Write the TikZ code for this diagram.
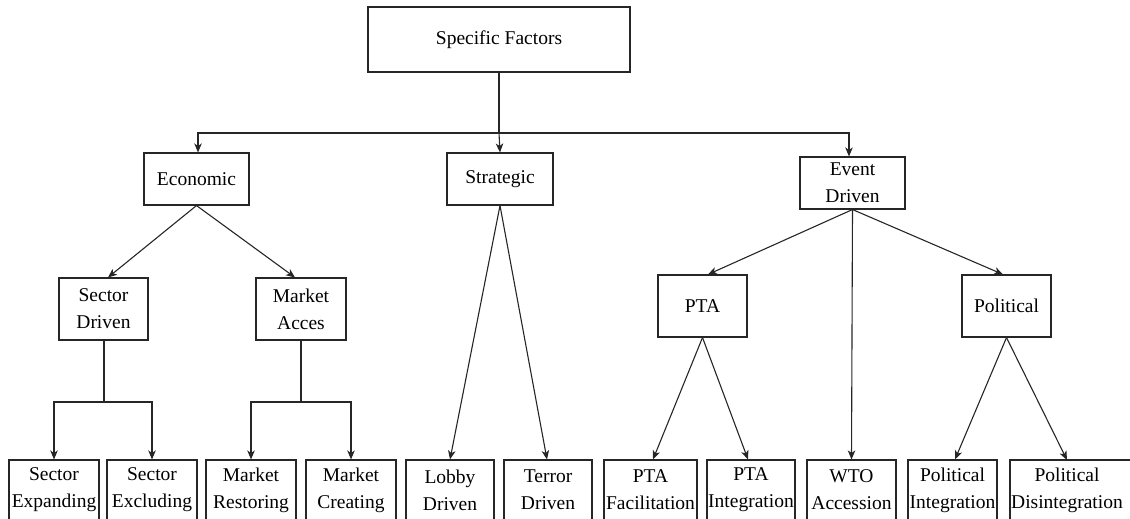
\documentclass[tikz,border=0pt]{standalone}
\usepackage{fontspec}
\setmainfont{Liberation Serif}
\newfontfamily\diagfont{Liberation Serif}
\usetikzlibrary{arrows.meta,calc}
\begin{document}
\begin{tikzpicture}[x=1pt,y=-1pt,
  box/.style={draw=black!85,line width=1.1pt,rectangle,inner sep=0pt,align=center,
    font=\diagfont\fontsize{19.5}{27}\selectfont},
  bare/.style={inner sep=0pt,align=center,font=\diagfont\fontsize{19.5}{27}\selectfont},
  conn/.style={draw=black!85,line width=1.1pt},
  arr/.style={conn,-{Stealth[length=9pt,width=7.5pt,inset=2.5pt]}}]
\useasboundingbox (0,0) rectangle (1130,519);
\clip (0,0) rectangle (1130,519);
% top level
\node[box,minimum width=262,minimum height=65] (sf) at (499,39.5) {Specific Factors};
% second level
\node[box,minimum width=105,minimum height=52] (eco) at (196.5,179) {Economic};
\node[box,minimum width=106,minimum height=52] (str) at (500,179) {Strategic};
\node[box,minimum width=105,minimum height=52] (evt) at (852.5,183) {Event\\Driven};
% third level
\node[box,minimum width=89,minimum height=62] (sd) at (103.5,309) {Sector\\Driven};
\node[box,minimum width=90,minimum height=62] (ma) at (301,309) {Market\\Acces};
\node[box,minimum width=89,minimum height=62] (pta) at (702.5,306) {PTA};
\node[box,minimum width=89,minimum height=62] (pol) at (1006.5,306) {Political};
% bottom level
\node[box,minimum width=90,minimum height=60] (se) at (54,490) {Sector\\Expanding};
\node[box,minimum width=90,minimum height=60] (sx) at (152,490) {Sector\\Excluding};
\node[box,minimum width=90,minimum height=60] (mr) at (251,490) {Market\\Restoring};
\node[box,minimum width=90,minimum height=60] (mc) at (351,490) {Market\\Creating};
\node[box,minimum width=88,minimum height=60] (ld) at (450,490) {Lobby\\Driven};
\node[box,minimum width=88,minimum height=60] (td) at (548,490) {Terror\\Driven};
\node[box,minimum width=93,minimum height=60] (pf) at (650.5,490) {PTA\\Facilitation};
\node[box,minimum width=88,minimum height=60] (pi) at (751,490) {PTA\\Integration};
\node[box,minimum width=89,minimum height=60] (wto) at (851.5,490) {WTO\\Accession};
\node[box,minimum width=89,minimum height=60] (pint) at (952.5,490) {Political\\Integration};
\node[bare,minimum height=60] (pdis) at (1067,490) {Political\\Disintegration};
\draw[conn] (1010,460) rectangle (1150,530);
\coordinate (pdt) at (1067,460);
% top connectors
\coordinate (j) at (499,133);
\draw[conn] (sf.south) -- (j);
\draw[arr] (j) -- (str.north);
\draw[arr] (j) -| ([xshift=1.5pt]eco.north);
\draw[arr] (j) -| ([xshift=-3.5pt]evt.north);
% economic
\draw[arr] (eco.south) -- ([xshift=4.5pt]sd.north);
\draw[arr] (eco.south) -- ([xshift=-6pt]ma.north);
\coordinate (fs) at (104,402);
\coordinate (fm) at (301,402);
\draw[conn] ([xshift=0.5pt]sd.south) -- (fs);
\draw[arr] (fs) -| (se.north);
\draw[arr] (fs) -| (sx.north);
\draw[conn] (ma.south) -- (fm);
\draw[arr] (fm) -| (mr.north);
\draw[arr] (fm) -| (mc.north);
% strategic
\draw[arr] (str.south) -- (ld.north);
\draw[arr] (str.south) -- ([xshift=-1pt]td.north);
% event driven
\draw[arr] (evt.south) -- ([xshift=5.5pt]pta.north);
\draw[arr] (evt.south) -- ([xshift=-3.5pt]pol.north);
\draw[arr] (evt.south) -- (wto.north);
\draw[arr] (pta.south) -- ([xshift=2.5pt]pf.north);
\draw[arr] (pta.south) -- ([xshift=-3pt]pi.north);
\draw[arr] (pol.south) -- ([xshift=2.5pt]pint.north);
\draw[arr] (pol.south) -- (pdt);
\end{tikzpicture}
\end{document}
